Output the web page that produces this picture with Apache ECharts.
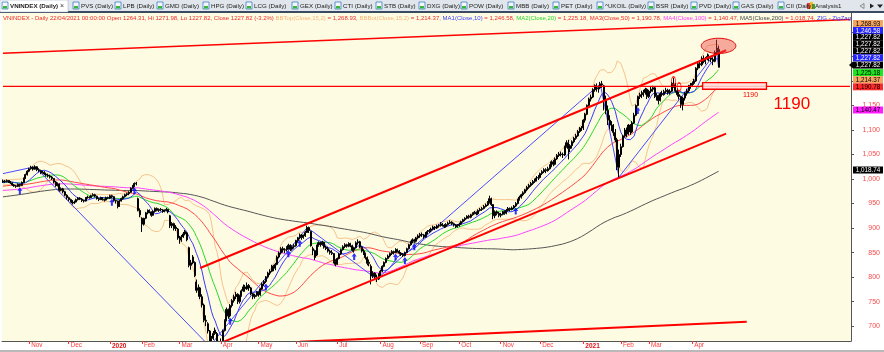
<!DOCTYPE html>
<html><head><meta charset="utf-8">
<script src="https://cdn.jsdelivr.net/npm/echarts@6/dist/echarts.min.js"></script>
<style>html,body{margin:0;padding:0;background:#fff;}#c{width:884px;height:352px;}</style>
</head><body><div id="c"></div>
<script>
// ---------------- DATA ----------------
const startDate = '2019-10-14';
const holidays = ['2020-01-01','2020-01-23','2020-01-24','2020-01-27','2020-01-28','2020-01-29','2020-04-02','2020-04-30','2020-05-01','2020-09-02','2021-01-01','2021-02-10','2021-02-11','2021-02-12','2021-02-15','2021-02-16','2021-04-21'];
const futureSlots = 70;
const monthNames = ['Jan','Feb','Mar','Apr','May','Jun','Jul','Aug','Sep','Oct','Nov','Dec'];
// daily bars: [open, high, low, close]
const ohlc = [
// Oct 2019
[994,999,992,996],[996,998,992,995],[995,999,993,997],[997,998,992,994],[994,996,990,992],[992,993,986,988],[988,990,984,986],[986,988,982,985],[985,991,984,989],[989,990,984,987],[987,995,986,993],[993,1003,992,1001],[1001,1011,1000,1009],[1009,1018,1007,1016],
// Nov 2019
[1016,1023,1014,1021],[1021,1027,1019,1024],[1024,1026,1017,1020],[1020,1028,1019,1025],[1025,1026,1016,1019],[1019,1022,1014,1017],[1017,1019,1010,1013],[1013,1017,1011,1014],[1014,1016,1008,1010],[1010,1013,1005,1008],[1008,1011,1003,1006],[1006,1009,1001,1004],[1004,1006,998,1001],[1001,1002,991,994],[994,996,984,987],[987,993,985,990],[990,991,974,977],[977,983,975,980],[980,982,971,974],[974,976,965,967],[967,969,958,962],
// Dec 2019
[962,964,955,958],[958,960,952,955],[955,957,948,951],[951,956,949,953],[953,960,952,958],[958,963,956,961],[961,963,957,959],[959,961,953,956],[956,958,952,955],[955,963,954,961],[961,966,960,963],[963,965,960,962],[962,968,961,966],[966,971,965,968],[968,970,963,965],[965,966,958,960],[960,962,955,958],[958,964,957,962],[962,963,956,958],[958,960,954,957],[957,964,956,962],[962,964,959,961],
// Jan 2020
[961,968,959,966],[966,968,961,964],[964,965,954,956],[956,958,950,955],[955,956,940,944],[944,957,943,955],[955,962,954,960],[960,966,958,964],[964,970,962,968],[968,972,965,970],[970,975,967,973],[973,983,972,981],[981,988,979,986],[986,993,984,991],[991,994,987,990],[960,962,934,936],[936,940,922,927],
// Feb 2020
[920,922,892,908],[908,921,905,920],[920,933,918,931],[931,938,928,936],[936,938,930,933],[933,934,923,926],[926,936,925,934],[934,942,932,940],[940,942,934,936],[936,940,933,938],[938,941,934,937],[937,939,931,934],[934,938,932,936],[936,941,934,938],[938,939,930,933],[925,927,900,905],[905,912,900,909],[909,911,895,899],[899,906,894,902],[898,900,876,880],
// Mar 2020
[880,884,868,876],[876,886,872,882],[882,892,880,888],[888,896,885,893],[890,892,873,876],[860,862,820,824],[824,835,815,829],[829,845,826,841],[830,832,800,803],[790,795,768,773],[773,785,760,778],[778,780,755,760],[760,765,738,743],[743,746,708,712],[712,722,700,710],[705,708,685,690],[690,692,650,659],[659,680,655,675],[675,690,672,685],[685,697,682,692],[685,688,660,663],[663,670,650,662],
// Apr 2020
[662,675,660,666],[670,693,668,691],[691,714,689,711],[711,738,710,734],[734,736,715,721],[721,745,718,742],[742,755,738,752],[752,764,748,760],[760,770,755,765],[765,767,745,750],[750,764,746,762],[762,775,760,772],[772,785,770,780],[780,784,770,776],[776,789,774,783],[783,786,772,778],[778,780,763,766],[766,768,755,760],[760,766,756,763],[763,772,760,769],
// May 2020
[769,771,760,764],[764,778,762,776],[776,789,774,786],[786,794,782,791],[791,802,788,800],[800,811,797,808],[808,816,804,812],[812,825,810,822],[822,825,812,818],[818,829,814,826],[826,844,825,841],[841,852,838,849],[849,861,846,858],[858,862,850,855],[855,859,849,856],[856,863,852,860],[860,868,856,865],[865,867,853,857],[857,865,854,862],[862,868,858,864],
// Jun 2020
[864,876,862,874],[874,882,870,880],[880,889,877,886],[886,888,876,881],[881,887,878,884],[884,894,882,891],[891,905,890,901],[901,903,890,895],[893,895,862,864],[858,862,845,854],[854,856,835,840],[845,866,843,865],[865,873,862,870],[870,872,862,866],[866,874,864,871],[871,872,858,861],[861,864,855,858],[858,862,850,853],[853,856,846,850],[850,855,845,848],[848,849,828,832],[832,836,822,826],
// Jul 2020
[826,840,825,838],[838,849,836,847],[847,858,845,856],[856,865,854,862],[862,869,859,866],[866,868,860,863],[863,871,861,868],[868,870,861,864],[864,866,852,855],[855,862,850,860],[860,873,858,870],[870,877,866,872],[872,874,859,861],[861,863,850,853],[853,857,845,848],[848,850,836,840],[840,842,824,828],[828,836,822,830],[822,826,785,802],[802,812,798,808],[808,810,796,800],[800,805,790,796],[796,808,794,802],
// Aug 2020
[802,815,800,812],[812,824,810,822],[822,832,820,830],[830,840,828,838],[838,846,836,843],[843,850,840,848],[848,855,845,852],[852,854,846,850],[850,859,849,856],[856,858,850,853],[853,855,846,849],[849,851,843,846],[846,849,841,844],[844,852,842,850],[850,860,849,858],[858,868,856,866],[866,874,864,872],[872,879,869,876],[876,878,870,873],[873,882,871,880],[880,887,877,884],
// Sep 2020
[884,890,880,887],[887,891,882,886],[886,888,878,882],[882,892,880,890],[890,896,887,893],[893,898,890,895],[895,901,892,898],[898,905,896,902],[902,904,896,900],[900,907,898,904],[904,908,901,905],[905,912,903,908],[908,910,903,906],[906,908,900,903],[903,910,901,907],[907,913,905,910],[910,916,908,912],[912,914,906,909],[909,911,903,906],[906,908,900,903],[903,908,901,905],
// Oct 2020
[905,911,903,908],[908,915,906,913],[913,919,911,917],[917,922,914,920],[920,926,918,924],[924,927,919,922],[922,929,920,927],[927,932,925,930],[930,935,928,932],[932,934,926,929],[929,938,927,936],[936,941,934,938],[938,943,935,940],[940,947,938,944],[944,950,942,947],[947,955,945,952],[952,966,950,960],[960,962,945,948],[948,949,918,925],[925,936,920,933],[933,936,926,930],[930,933,922,926],
// Nov 2020
[926,931,922,928],[928,935,926,933],[933,936,927,930],[930,939,928,936],[936,943,934,940],[940,942,934,938],[938,944,936,941],[941,947,939,945],[945,953,943,950],[950,960,948,958],[958,966,956,963],[963,970,960,968],[968,975,965,972],[972,980,970,978],[978,986,975,983],[983,990,980,987],[987,994,984,991],[991,998,988,995],[995,1001,992,998],[998,1006,995,1002],[1002,1008,998,1003],
// Dec 2020
[1003,1013,1001,1011],[1011,1018,1008,1015],[1015,1022,1012,1019],[1019,1022,1012,1017],[1017,1025,1015,1021],[1021,1030,1019,1026],[1026,1038,1024,1035],[1035,1039,1026,1030],[1030,1044,1028,1041],[1041,1051,1039,1048],[1048,1055,1045,1051],[1051,1056,1046,1050],[1050,1054,1043,1049],[1049,1068,1047,1066],[1066,1079,1064,1074],[1074,1080,1040,1062],[1062,1071,1055,1068],[1068,1079,1062,1076],[1076,1086,1073,1083],[1083,1092,1080,1088],[1088,1100,1086,1097],[1097,1106,1094,1102],[1102,1108,1098,1104],
// Jan 2021
[1104,1122,1100,1120],[1120,1135,1115,1132],[1132,1152,1130,1150],[1150,1166,1148,1163],[1163,1172,1158,1167],[1167,1185,1165,1182],[1182,1193,1178,1190],[1190,1195,1178,1184],[1184,1190,1176,1186],[1186,1198,1183,1194],[1194,1200,1186,1192],[1190,1192,1140,1160],[1160,1170,1132,1140],[1140,1150,1110,1120],[1120,1130,1102,1110],[1110,1118,1098,1106],[1106,1112,1088,1095],[1095,1102,1075,1080],[1080,1084,1018,1024],[1024,1060,1001,1050],
// Feb 2021
[1050,1072,1045,1066],[1066,1090,1064,1088],[1088,1104,1085,1100],[1100,1105,1085,1092],[1092,1112,1090,1110],[1110,1112,1090,1096],[1096,1118,1094,1114],[1114,1135,1112,1130],[1130,1152,1128,1150],[1150,1170,1148,1168],[1168,1176,1163,1172],[1172,1180,1165,1174],[1174,1182,1168,1176],[1176,1186,1172,1183],[1183,1185,1163,1168],
// Mar 2021
[1168,1182,1165,1179],[1179,1188,1175,1183],[1183,1190,1178,1186],[1186,1189,1165,1168],[1168,1175,1160,1170],[1170,1172,1152,1160],[1160,1177,1158,1174],[1174,1180,1168,1172],[1172,1182,1170,1178],[1178,1186,1175,1181],[1181,1184,1172,1176],[1176,1183,1172,1179],[1179,1198,1177,1195],[1195,1206,1186,1192],[1192,1196,1176,1180],[1180,1185,1168,1172],[1172,1178,1162,1168],[1168,1170,1145,1152],[1152,1168,1140,1165],[1165,1178,1160,1175],[1175,1184,1170,1180],[1180,1192,1176,1188],[1188,1196,1184,1191],
// Apr 2021
[1191,1199,1188,1195],[1195,1204,1192,1200],[1200,1228,1198,1226],[1226,1240,1222,1235],[1235,1242,1226,1233],[1233,1250,1230,1246],[1246,1252,1236,1240],[1240,1249,1234,1245],[1245,1256,1242,1250],[1250,1254,1240,1246],[1246,1251,1238,1244],[1244,1248,1232,1240],[1240,1262,1238,1258],[1258,1284,1255,1267],[1264.31,1271.98,1227.82,1227.82]
];
// closes of the 200 sessions before the first bar (only used for the moving averages)
const priorCloses = [
900,895,893,890,888,892,892,
880,875,878,884,889,892,895,890,893,898,899,902,905,903,906,908,910,907,905,909,911,910,
915,930,940,945,950,948,955,960,958,965,970,968,972,975,979,
985,990,995,1000,992,988,980,985,990,995,992,986,983,978,975,980,985,982,979,983,980,
983,978,975,970,975,980,978,972,968,965,970,975,972,968,965,970,973,975,972,970,
968,964,960,962,965,968,970,972,975,972,968,965,960,962,965,968,970,967,963,960,958,
955,950,948,952,955,958,955,950,947,950,953,955,958,960,962,958,955,952,950,949,
955,960,965,970,968,972,975,978,980,976,972,975,980,985,988,990,992,995,992,990,993,995,992,
990,985,975,965,970,975,978,980,983,985,982,978,980,985,988,990,993,990,988,985,983,980,
978,975,972,975,978,980,983,985,982,980,985,990,993,995,990,988,992,995,993,990,
992,995,990,988,992,995,996,993,995
];
// ZigZag pivots [bar index, value]
const zigPivots = [[0,1011],[17,1025],[110,659],[162,901],[199,796],[318,1194],[328,1004],[380,1260],[381,1227.82]];
const buySignals = [9,58,70,121,140,152,158,187,209,214,219,273,338];
const sellSignals = [[357,1200],[360,1188]];
// hand-drawn studies: endpoints [bar index, price]
const trendLines = [
  {pts:[[0,1256.5],[451,1325]], w:1.5},
  {pts:[[105,818.5],[385,1262.6]], w:2},
  {pts:[[117,667.4],[385,1092.4]], w:2},
  {pts:[[158,668],[396,708.9]], w:2},
  {pts:[[0,1189],[451,1189]], w:1.2}
];
const zone1190 = {x0:373, x1:407, top:1196.5, bottom:1183};
const topEllipse = {x:381, y:1271.5, rxBars:9.2, ryPts:15.5};
const notes = [{x:398, y:1171.3, text:'1190', size:7}, {x:420, y:1153, text:'1190', size:17}];
const priceTags = [
  {t:'1,268.93', bg:'#f5a561', fg:'#000'},
  {t:'1,246.58', bg:'#2424ff', fg:'#fff'},
  {t:'1,227.82', bg:'#000', fg:'#fff'},
  {t:'1,227.82', bg:'#000', fg:'#fff'},
  {t:'1,227.82', bg:'#000', fg:'#fff'},
  {t:'1,227.82', bg:'#2424ff', fg:'#fff'},
  {t:'1,227.82', bg:'#000', fg:'#fff', ptr:true},
  {t:'1,225.18', bg:'#1ee61e', fg:'#000'},
  {t:'1,214.37', bg:'#f5a561', fg:'#000'},
  {t:'1,190.78', bg:'#ff2a2a', fg:'#000'},
  {t:'1,140.47', bg:'#ff1aff', fg:'#000'},
  {t:'1,018.74', bg:'#000', fg:'#fff'}
];
const legendParts = [
  ['r','VNINDEX - Daily 22/04/2021 00:00:00 Open 1264.31, Hi 1271.98, Lo 1227.82, Close 1227.82 (-3.2%) '],
  ['o','BBTop(Close,15,2)'],['r',' = 1,268.93, '],
  ['o','BBBot(Close,15,2)'],['r',' = 1,214.37, '],
  ['b','MA1(Close,10)'],['r',' = 1,246.58, '],
  ['g','MA2(Close,20)'],['r',' = 1,225.18, '],
  ['r','MA3(Close,50) = 1,190.78, '],
  ['m','MA4(Close,100)'],['r',' = 1,140.47, '],
  ['k','MA5(Close,200)'],['r',' = 1,018.74, '],
  ['b','ZIG - ZigZag(Close,10)']
];
const tabs = ['VNINDEX (Daily)','PVS (Daily)','LPB (Daily)','GMD (Daily)','HPG (Daily)','LCG (Daily)','GEX (Daily)','CTI (Daily)','STB (Daily)','DXG (Daily)','POW (Daily)','MBB (Daily)','PET (Daily)','^UKOIL (Daily)','BSR (Daily)','PVD (Daily)','GAS (Daily)','CII (Daily)','Analysis1'];

// ---------------- LAYOUT / STYLE ----------------
const FONT = '"Liberation Sans", Arial, sans-serif';
const tabX = [2,73,115,157,203,246,292,335,376,419,461,508,553,597,648,691,733,778,807];
const tagY = [23.5,30.5,37.3,44.1,50.9,57.8,65.1,72.6,79.6,86.8,110,170];
const BG = '#fdfce2';

// ---------------- BUILD ----------------
const dates = [];
(function(){
  const d = new Date(startDate + 'T00:00:00Z');
  while (dates.length < ohlc.length) {
    const dow = d.getUTCDay(); const s = d.toISOString().slice(0,10);
    if (dow !== 0 && dow !== 6 && holidays.indexOf(s) < 0) dates.push(s);
    d.setUTCDate(d.getUTCDate() + 1);
  }
})();
const categories = dates.concat(Array.from({length: futureSlots}, (_, i) => 'f' + i));
const monthLabel = {};
for (let i = 1; i < dates.length; i++) {
  if (dates[i].slice(5,7) !== dates[i-1].slice(5,7)) {
    const m = +dates[i].slice(5,7) - 1;
    monthLabel[i] = m === 0 ? '{y|' + dates[i].slice(0,4) + '}' : monthNames[m];
  }
}
const closesAll = priorCloses.concat(ohlc.map(r => r[3]));
const P = priorCloses.length;
function sma(n) {
  return ohlc.map((_, i) => { const e = P + i + 1; let s = 0; for (let k = e - n; k < e; k++) s += closesAll[k]; return +(s / n).toFixed(2); });
}
function bb(n, m, sign) {
  return ohlc.map((_, i) => {
    const e = P + i + 1; let s = 0; for (let k = e - n; k < e; k++) s += closesAll[k];
    const mean = s / n; let v = 0; for (let k = e - n; k < e; k++) v += (closesAll[k] - mean) ** 2;
    return +(mean + sign * m * Math.sqrt(v / n)).toFixed(2);
  });
}
const candle = ohlc.map(r => [r[0], r[3], r[2], r[1]]);
const lineS = (name, data, color, w, z) => ({type:'line', name, data, symbol:'none', lineStyle:{color, width:w}, z: z||2, silent:true, animation:false});

const series = [
  lineS('BBTop', bb(15,2,1), '#f8c28c', 1),
  lineS('BBBot', bb(15,2,-1), '#f8c28c', 1),
  lineS('MA5', sma(200), '#555555', 1),
  lineS('MA4', sma(100), '#ff45ff', 1),
  lineS('MA3', sma(50), '#ff4a4a', 1),
  lineS('MA2', sma(20), '#2ad82a', 1),
  lineS('MA1', sma(10), '#3a3aff', 1),
  lineS('ZIG', zigPivots, '#4b4bff', 1),
  {type:'candlestick', data:candle, barWidth:1.5, z:3, animation:false,
   itemStyle:{color:'#000', color0:'#000', borderColor:'#000', borderColor0:'#000', borderWidth:1}},
];
trendLines.forEach(t => series.push(lineS('trend', t.pts, '#ff0000', t.w, 4)));
series.push({type:'scatter', data: buySignals.map(i => [i, ohlc[i][2]]), symbol:'path://M5,0 L10,5 L7,5 L7,10 L3,10 L3,5 L0,5 Z', symbolSize:[5,7], symbolOffset:[0,4], itemStyle:{color:'#0000ff'}, z:5, animation:false});
series.push({type:'scatter', data: sellSignals, symbol:'circle', symbolSize:[4,8], itemStyle:{color:'rgba(0,0,0,0)', borderColor:'#ff0000', borderWidth:1.2}, z:5, animation:false});
series.push({type:'custom', data:[[0,0]], z:6, clip:true, animation:false,
  renderItem: function(params, api) {
    const bw = api.size([1,1])[0];
    const a = api.coord([zone1190.x0, zone1190.top]), b = api.coord([zone1190.x1, zone1190.bottom]);
    const c = api.coord([topEllipse.x, topEllipse.y]);
    const rx = topEllipse.rxBars * bw, ry = api.size([0, topEllipse.ryPts])[1];
    const pts = []; for (let k = 0; k < 72; k++) { const t = k / 72 * Math.PI * 2; pts.push([c[0] + rx * Math.cos(t), c[1] + ry * Math.sin(t)]); }
    const children = [
      {type:'rect', shape:{x:a[0] - bw/2, y:a[1], width:b[0] - a[0], height:b[1] - a[1]}, style:{fill:'rgba(255,222,222,0.85)', stroke:'#ff0000', lineWidth:1.3}},
      {type:'polygon', shape:{points:pts}, style:{fill:'rgba(236,70,70,0.45)', stroke:'#e00000', lineWidth:1}}
    ];
    notes.forEach(n => { const p = api.coord([n.x, n.y]); children.push({type:'text', x:p[0], y:p[1], style:{text:n.text, fill:'#ff0000', fontSize:n.size, fontFamily:FONT, align:'center', verticalAlign:'middle'}}); });
    return {type:'group', children};
  }});

// graphic: tab bar, legend line, right-side tags
const graphic = [];
// legend line (drawn first, below the right panel)
const rich = {
  r:{fill:'#ef2b2b'}, o:{fill:'#f6b476'}, b:{fill:'#3c3cff'}, g:{fill:'#2ed62e'}, m:{fill:'#ff3cff'}, k:{fill:'#444444'}
};
Object.keys(rich).forEach(k => { rich[k].fontSize = 6.0; rich[k].fontFamily = FONT; });
graphic.push({type:'text', x:3, y:18, style:{text: legendParts.map(p => '{' + p[0] + '|' + p[1] + '}').join(''), rich, fontSize:6.0, fontFamily:FONT, verticalAlign:'middle'}, z:8});
// right axis panel & bottom strip
graphic.push({type:'rect', shape:{x:851, y:13, width:33, height:339}, style:{fill:'#ffffff'}, z:35});
graphic.push({type:'rect', shape:{x:0, y:341, width:851, height:9}, style:{fill:'#ffffff'}, z:35});
graphic.push({type:'rect', shape:{x:0, y:350, width:884, height:2}, style:{fill:'#b9b9b9'}, z:35});
// tab bar
graphic.push({type:'rect', shape:{x:0, y:0, width:884, height:11}, style:{fill:'#e1e6ec'}, z:45});
graphic.push({type:'rect', shape:{x:0, y:11, width:884, height:2}, style:{fill:'#3a4a62'}, z:45});
graphic.push({type:'rect', shape:{x:0, y:0, width:68, height:12}, style:{fill:'#ffffff', stroke:'#9aa6b5', lineWidth:0.5}, z:46});
tabs.forEach((t, i) => {
  const x = tabX[i];
  if (i === tabs.length - 1) {
    graphic.push({type:'rect', shape:{x:x, y:3, width:3, height:6}, style:{fill:'#e03b3b'}, z:47});
    graphic.push({type:'rect', shape:{x:x+3, y:2, width:3, height:7}, style:{fill:'#e8c02a'}, z:47});
    graphic.push({type:'rect', shape:{x:x+6, y:4, width:2, height:5}, style:{fill:'#35a835'}, z:47});
  } else {
    graphic.push({type:'rect', shape:{x:x, y:2, width:6, height:7}, style:{fill:'#f4f8fc', stroke:'#3a78c8', lineWidth:0.8}, z:47});
    graphic.push({type:'rect', shape:{x:x+1, y:6, width:4, height:2.5}, style:{fill:'#38b838'}, z:48});
  }
  graphic.push({type:'text', x:x + 8, y:6, style:{text:t, fill:'#1c1c1c', fontSize:6.2, fontFamily:FONT, fontWeight: i === 0 ? 'bold' : 'normal', verticalAlign:'middle'}, z:48});
});
graphic.push({type:'text', x:60, y:6, style:{text:'×', fill:'#333', fontSize:7, fontFamily:FONT, verticalAlign:'middle'}, z:48});
graphic.push({type:'polygon', shape:{points:[[860,6],[864,3.5],[864,8.5]]}, style:{fill:'none', stroke:'#777', lineWidth:0.8}, z:48});
graphic.push({type:'polygon', shape:{points:[[874,6],[870,3.5],[870,8.5]]}, style:{fill:'#222'}, z:48});
graphic.push({type:'polygon', shape:{points:[[877,4.5],[883,4.5],[880,8]]}, style:{fill:'#222'}, z:48});
// value tags on the price axis
priceTags.forEach((t, i) => {
  const y = tagY[i];
  graphic.push({type:'rect', shape:{x:853, y:y - 3.5, width:30, height:7}, style:{fill:t.bg}, z:40});
  if (t.ptr) graphic.push({type:'polygon', shape:{points:[[849,y],[853,y-3.5],[853,y+3.5]]}, style:{fill:'#000'}, z:40});
  graphic.push({type:'text', x:868, y:y + 0.3, style:{text:t.t, fill:t.fg, fontSize:6.3, fontFamily:FONT, align:'center', verticalAlign:'middle'}, z:41});
});

const chart = echarts.init(document.getElementById('c'), null, {renderer:'canvas'});
chart.setOption({
  animation:false,
  backgroundColor:'#ffffff',
  grid:{left:2, right:33, top:13, bottom:11, show:true, backgroundColor:BG, borderWidth:0},
  xAxis:{type:'category', data:categories, boundaryGap:true, z:37,
    axisLine:{show:true, lineStyle:{color:'#555', width:1}},
    axisTick:{show:true, alignWithLabel:true, interval:(i) => monthLabel[i] !== undefined, length:3, lineStyle:{color:'#ff3030'}},
    axisLabel:{show:true, interval:(i) => monthLabel[i] !== undefined, formatter:(v, i) => monthLabel[i] || '', color:'#ff3a3a', fontSize:6.3, fontFamily:FONT, align:'left', margin:1.5, padding:[0,0,0,2], rich:{y:{fontWeight:'bold', color:'#e01010', fontSize:6.5, fontFamily:FONT}}},
    splitLine:{show:false}},
  yAxis:{type:'value', position:'right', min:669.7, max:1338.5, scale:true, splitNumber:13, minInterval:50, maxInterval:50, z:37,
    axisLine:{show:true, lineStyle:{color:'#555', width:1}},
    axisTick:{show:true, length:3, lineStyle:{color:'#555'}},
    axisLabel:{color:'#ff4a4a', fontSize:7, fontFamily:FONT, align:'right', margin:29, showMinLabel:false, showMaxLabel:false, formatter:v => v.toLocaleString('en-US')},
    splitLine:{show:false}},
  series,
  graphic
});
</script></body></html>
